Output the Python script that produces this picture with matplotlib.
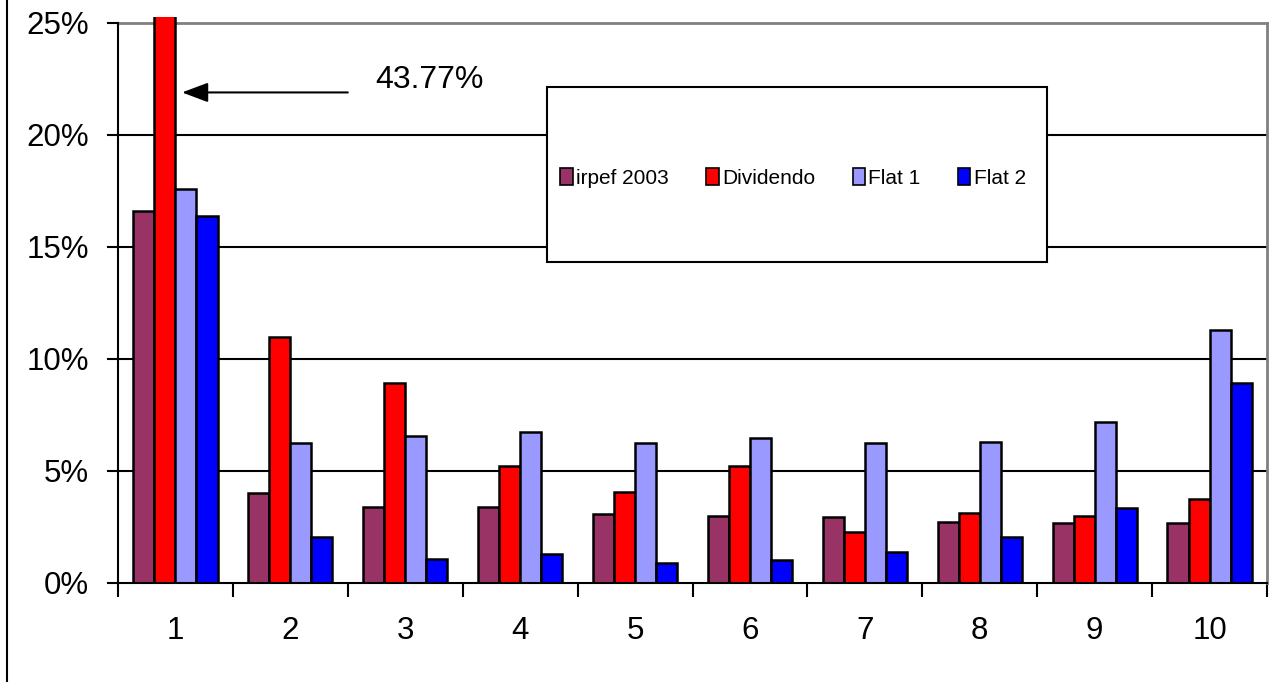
import numpy as np
import matplotlib
matplotlib.use("Agg")
import matplotlib.pyplot as plt
from matplotlib.patches import Rectangle
from matplotlib.transforms import Bbox, TransformedBbox
from matplotlib.lines import Line2D

plt.rcParams["font.family"] = ["Liberation Sans", "DejaVu Sans"]

deciles = [1, 2, 3, 4, 5, 6, 7, 8, 9, 10]
series_names = ["irpef 2003", "Dividendo", "Flat 1", "Flat 2"]
irpef_2003 = [16.6, 4.0, 3.38, 3.38, 3.09, 3.0, 2.93, 2.74, 2.66, 2.66]
dividendo = [43.77, 11.0, 8.91, 5.24, 4.08, 5.24, 2.29, 3.11, 3.0, 3.74]
flat_1 = [17.6, 6.24, 6.58, 6.76, 6.24, 6.49, 6.24, 6.31, 7.2, 11.31]
flat_2 = [16.4, 2.04, 1.06, 1.31, 0.88, 1.04, 1.40, 2.04, 3.36, 8.91]
colors = ["#993366", "#FF0000", "#9999FF", "#0000FF"]
y_ticks = [0, 5, 10, 15, 20, 25]

W, H = 1284, 682
fig = plt.figure(figsize=(W / 100, H / 100), dpi=100)
ax = fig.add_axes([118 / W, (H - 583) / H, (1267 - 118) / W, (583 - 23) / H])

x = np.arange(1, len(deciles) + 1)
bw = 0.183
series = [irpef_2003, dividendo, flat_1, flat_2]
# let the off-scale bar poke a few pixels above the plot area
clip = TransformedBbox(Bbox([[0, 0], [1, 1.011]]), ax.transAxes)
for i, (vals, col) in enumerate(zip(series, colors)):
    bars = ax.bar(x + (i - 1.5) * bw, vals, width=bw, color=col,
                  edgecolor="black", linewidth=1.8, zorder=3)
    for b in bars:
        b.set_clip_box(clip)

ax.set_xlim(0.5, len(deciles) + 0.5)
ax.set_ylim(0, 25)

for v in y_ticks[1:-1]:
    ax.axhline(v, color="black", linewidth=1.5, zorder=1)

ax.set_yticks(y_ticks)
ax.set_yticklabels([f"{v}%" for v in y_ticks])
ax.set_xticks(np.arange(0.5, len(deciles) + 1, 1))
ax.set_xticklabels([])
ax.set_xticks(x, minor=True)
ax.set_xticklabels([str(d) for d in deciles], minor=True)
ax.tick_params(axis="x", which="major", direction="out", length=10, width=1.5)
ax.tick_params(axis="x", which="minor", length=0, pad=24, labelsize=22.5)
ax.tick_params(axis="y", direction="out", length=8, width=1.5, pad=13,
               labelsize=22.5)

for s in ["left", "bottom"]:
    ax.spines[s].set_linewidth(1.5)
    ax.spines[s].set_zorder(4)
for s in ["top", "right"]:
    ax.spines[s].set_color("#808080")
    ax.spines[s].set_linewidth(2)

# arrow pointing at the off-scale bar
ax.annotate("", xy=(1.057, 21.9), xytext=(2.50, 21.9),
            arrowprops=dict(arrowstyle="-|>,head_length=1.6,head_width=0.6",
                            color="black", lw=1.5, shrinkA=0, shrinkB=0))
ax.text(2.737, 22.45, f"{dividendo[0]:.2f}%", fontsize=23, ha="left", va="center")

# legend box
fig.patches.append(Rectangle((547 / W, (H - 262) / H), 500 / W, 175 / H,
                             transform=fig.transFigure, facecolor="white",
                             edgecolor="black", linewidth=1.5, zorder=5))
handles = [Rectangle((0, 0), 1, 1, facecolor=c, edgecolor="black", linewidth=1.2)
           for c in colors]
leg = fig.legend(handles, series_names, loc="center",
                 bbox_to_anchor=(793 / W, (H - 178) / H), ncol=4, frameon=False,
                 prop={"size": 15},
                 handlelength=0.6, handleheight=0.85, handletextpad=0.15,
                 columnspacing=1.8)
leg.set_zorder(6)

# outer frame edge on the left
fig.add_artist(Line2D([7 / W, 7 / W], [0, 1], transform=fig.transFigure,
                      color="black", linewidth=1.5))

fig.savefig("out.png", dpi=100)
